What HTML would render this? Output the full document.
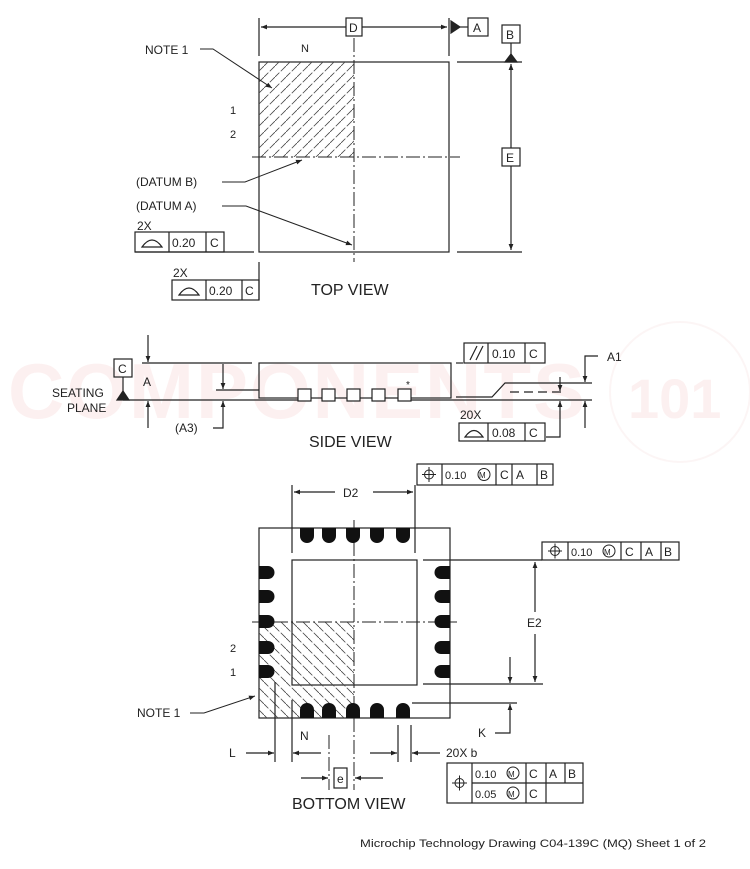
<!DOCTYPE html>
<html><head><meta charset="utf-8"><style>
html,body{margin:0;padding:0;background:#fff}
svg{display:block}
text{font-family:"Liberation Sans",Arial,sans-serif;fill:#222}
</style></head><body>
<svg width="750" height="869" viewBox="0 0 750 869" xmlns="http://www.w3.org/2000/svg">
<defs>
<marker id="ar" viewBox="0 0 10 10" refX="10" refY="5" markerWidth="9" markerHeight="6" orient="auto-start-reverse" markerUnits="userSpaceOnUse"><path d="M0,1 L10,5 L0,9z" fill="#222"/></marker>
<clipPath id="ct"><rect x="259" y="62" width="95" height="95"/></clipPath>
<clipPath id="cb"><rect x="259" y="622" width="95" height="96"/></clipPath>
<pattern id="hs" width="11" height="11" patternUnits="userSpaceOnUse"><path d="M-2,13 L13,-2" stroke="#444" stroke-width="0.8" stroke-dasharray="9,2"/></pattern>
<pattern id="hb" width="11" height="11" patternUnits="userSpaceOnUse"><path d="M-2,-2 L13,13" stroke="#444" stroke-width="0.8" stroke-dasharray="9,2"/></pattern>
</defs>
<!-- watermark -->
<g opacity="0.3">
<text x="8" y="418" font-size="78" font-weight="bold" style="fill:#f8d0d0" letter-spacing="2">COMPONENTS</text>
<text x="628" y="418" font-size="56" font-weight="bold" style="fill:#f8d0d0">101</text>
<circle cx="680" cy="392" r="70" fill="none" stroke="#f6e0e0" stroke-width="2"/>
</g>
<g stroke="#222" stroke-width="1.2" fill="none">
<!-- TOP VIEW -->
<rect x="259" y="62" width="190" height="190"/>
<rect x="259" y="62" width="95" height="95" fill="url(#hs)" stroke="none" clip-path="url(#ct)"/>
<line x1="354" y1="38" x2="354" y2="262" stroke-dasharray="14,3,2,3" stroke-width="1"/>
<line x1="252" y1="157" x2="460" y2="157" stroke-dasharray="14,3,2,3" stroke-width="1"/>
<line x1="259" y1="18" x2="259" y2="56"/><line x1="449" y1="18" x2="449" y2="56"/>
<line x1="261" y1="27" x2="346" y2="27" marker-start="url(#ar)"/>
<line x1="362" y1="27" x2="447" y2="27" marker-end="url(#ar)"/>
<rect x="346" y="18" width="16" height="18"/>
<path d="M451,21 L460,27 L451,33z" fill="#222"/>
<line x1="460" y1="27" x2="468" y2="27"/>
<rect x="468" y="18" width="20" height="18"/>
<rect x="502" y="25" width="18" height="18"/>
<line x1="511" y1="43" x2="511" y2="55"/>
<path d="M505,62 L511,54 L517,62z" fill="#222"/>
<line x1="457" y1="62" x2="522" y2="62"/><line x1="457" y1="252" x2="522" y2="252"/>
<line x1="511" y1="64" x2="511" y2="148" marker-start="url(#ar)"/>
<line x1="511" y1="166" x2="511" y2="250" marker-end="url(#ar)"/>
<rect x="502" y="148" width="18" height="18"/>
<polyline points="200,49 213,49 272,88" marker-end="url(#ar)" stroke-width="1"/>
<polyline points="222,182 245,182 302,160" marker-end="url(#ar)" stroke-width="1"/>
<polyline points="222,206 246,206 352,245" marker-end="url(#ar)" stroke-width="1"/>
<line x1="135" y1="252" x2="254" y2="252"/>
<rect x="135" y="232" width="89" height="20"/>
<line x1="169" y1="232" x2="169" y2="252"/><line x1="206" y1="232" x2="206" y2="252"/>
<path d="M142,247 Q152,233 162,247 Z"/>
<line x1="259" y1="262" x2="259" y2="300"/>
<rect x="172" y="280" width="87" height="20"/>
<line x1="206" y1="280" x2="206" y2="300"/><line x1="242" y1="280" x2="242" y2="300"/>
<path d="M179,295 Q189,281 199,295 Z"/>
<!-- SIDE VIEW -->
<rect x="259" y="363" width="192" height="35"/>
<line x1="142" y1="363" x2="252" y2="363"/>
<line x1="216" y1="390" x2="259" y2="390"/>
<line x1="123" y1="400" x2="300" y2="400"/>
<line x1="411" y1="400" x2="592" y2="400"/>
<line x1="148" y1="335" x2="148" y2="362" marker-end="url(#ar)"/>
<line x1="148" y1="428" x2="148" y2="401" marker-end="url(#ar)"/>
<rect x="114" y="359" width="18" height="18"/>
<line x1="123" y1="377" x2="123" y2="392"/>
<path d="M117,400 L123,391 L129,400z" fill="#222"/>
<line x1="223" y1="364" x2="223" y2="389" marker-end="url(#ar)"/>
<polyline points="213,428 223,428 223,401" marker-end="url(#ar)"/>
<g fill="#fff">
<rect x="298" y="389" width="13" height="12"/><rect x="322" y="389" width="13" height="12"/><rect x="347" y="389" width="13" height="12"/><rect x="372" y="389" width="13" height="12"/><rect x="398" y="389" width="13" height="12"/>
</g>
<line x1="456" y1="363" x2="463" y2="363"/>
<rect x="464" y="343" width="81" height="20"/>
<line x1="488" y1="343" x2="488" y2="363"/><line x1="525" y1="343" x2="525" y2="363"/>
<line x1="470" y1="360" x2="477" y2="346"/><line x1="476" y1="360" x2="483" y2="346"/>
<polyline points="456,397 492,397 505,383 592,383"/>
<line x1="510" y1="392" x2="564" y2="392" stroke-dasharray="9,5"/>
<line x1="585" y1="358" x2="585" y2="382" marker-end="url(#ar)"/>
<line x1="585" y1="428" x2="585" y2="401" marker-end="url(#ar)"/>
<polyline points="598,356 585,356 585,358"/>
<line x1="560" y1="377" x2="560" y2="391" marker-end="url(#ar)"/>
<polyline points="546,437 560,437 560,401" marker-end="url(#ar)"/>
<rect x="459" y="423" width="86" height="18"/>
<line x1="488" y1="423" x2="488" y2="441"/><line x1="525" y1="423" x2="525" y2="441"/>
<path d="M465,437 Q474,424 483,437 Z"/>
<!-- BOTTOM VIEW -->
<rect x="259" y="528" width="191" height="190"/>
<rect x="292" y="560" width="125" height="125"/>
<rect x="259" y="622" width="95" height="96" fill="url(#hb)" stroke="none" clip-path="url(#cb)"/>
<line x1="354" y1="520" x2="354" y2="790" stroke-dasharray="14,3,2,3" stroke-width="1"/>
<line x1="252" y1="622" x2="457" y2="622" stroke-dasharray="14,3,2,3" stroke-width="1"/>
<g fill="#111" stroke="none">
<path d="M300,528 h14 v8 a7,7 0 0 1 -14,0z"/><path d="M322,528 h14 v8 a7,7 0 0 1 -14,0z"/><path d="M346,528 h14 v8 a7,7 0 0 1 -14,0z"/><path d="M370,528 h14 v8 a7,7 0 0 1 -14,0z"/><path d="M396,528 h14 v8 a7,7 0 0 1 -14,0z"/>
<path d="M300,718 h14 v-8 a7,7 0 0 0 -14,0z"/><path d="M322,718 h14 v-8 a7,7 0 0 0 -14,0z"/><path d="M346,718 h14 v-8 a7,7 0 0 0 -14,0z"/><path d="M370,718 h14 v-8 a7,7 0 0 0 -14,0z"/><path d="M396,718 h14 v-8 a7,7 0 0 0 -14,0z"/>
<path d="M259,566 v13 h9 a6.5,6.5 0 0 0 0,-13z"/><path d="M259,590 v13 h9 a6.5,6.5 0 0 0 0,-13z"/><path d="M259,615 v13 h9 a6.5,6.5 0 0 0 0,-13z"/><path d="M259,641 v13 h9 a6.5,6.5 0 0 0 0,-13z"/><path d="M259,665 v13 h9 a6.5,6.5 0 0 0 0,-13z"/>
<path d="M450,566 v13 h-9 a6.5,6.5 0 0 1 0,-13z"/><path d="M450,590 v13 h-9 a6.5,6.5 0 0 1 0,-13z"/><path d="M450,615 v13 h-9 a6.5,6.5 0 0 1 0,-13z"/><path d="M450,641 v13 h-9 a6.5,6.5 0 0 1 0,-13z"/><path d="M450,665 v13 h-9 a6.5,6.5 0 0 1 0,-13z"/>
</g>
<line x1="292" y1="485" x2="292" y2="553"/>
<line x1="415" y1="485" x2="415" y2="553"/>
<line x1="294" y1="492" x2="335" y2="492" marker-start="url(#ar)"/>
<line x1="373" y1="492" x2="413" y2="492" marker-end="url(#ar)"/>
<rect x="417" y="464" width="136" height="21"/>
<line x1="442" y1="464" x2="442" y2="485"/><line x1="496" y1="464" x2="496" y2="485"/><line x1="512" y1="464" x2="512" y2="485"/><line x1="537" y1="464" x2="537" y2="485"/>
<line x1="423" y1="560" x2="542" y2="560"/>
<rect x="542" y="542" width="137" height="18"/>
<line x1="568" y1="542" x2="568" y2="560"/><line x1="621" y1="542" x2="621" y2="560"/><line x1="641" y1="542" x2="641" y2="560"/><line x1="661" y1="542" x2="661" y2="560"/>
<line x1="535" y1="562" x2="535" y2="612" marker-start="url(#ar)"/>
<line x1="535" y1="634" x2="535" y2="682" marker-end="url(#ar)"/>
<line x1="423" y1="684" x2="543" y2="684"/>
<line x1="412" y1="703" x2="517" y2="703"/>
<line x1="510" y1="657" x2="510" y2="683" marker-end="url(#ar)"/>
<polyline points="495,733 510,733 510,704" marker-end="url(#ar)"/>
<line x1="275" y1="682" x2="275" y2="762"/><line x1="292" y1="700" x2="292" y2="762"/>
<line x1="329" y1="735" x2="329" y2="790" stroke-dasharray="14,3,2,3" stroke-width="1"/>
<line x1="398" y1="725" x2="398" y2="762"/><line x1="411" y1="725" x2="411" y2="762"/>
<line x1="246" y1="753" x2="274" y2="753" marker-end="url(#ar)"/>
<line x1="321" y1="753" x2="293" y2="753" marker-end="url(#ar)"/>
<line x1="370" y1="753" x2="397" y2="753" marker-end="url(#ar)"/>
<line x1="440" y1="753" x2="412" y2="753" marker-end="url(#ar)"/>
<line x1="301" y1="778" x2="328" y2="778" marker-end="url(#ar)"/>
<line x1="383" y1="778" x2="355" y2="778" marker-end="url(#ar)"/>
<rect x="334" y="768" width="13" height="20"/>
<polyline points="190,713 204,713 255,696" marker-end="url(#ar)" stroke-width="1"/>
<rect x="447" y="763" width="136" height="40"/>
<line x1="472" y1="763" x2="472" y2="803"/><line x1="472" y1="783" x2="583" y2="783"/>
<line x1="526" y1="763" x2="526" y2="803"/><line x1="546" y1="763" x2="546" y2="783"/><line x1="565" y1="763" x2="565" y2="783"/>
<line x1="546" y1="783" x2="546" y2="803"/>
</g>
<!-- position symbols -->
<g stroke="#222" stroke-width="1" fill="none">
<circle cx="429" cy="474.5" r="4.5"/><line x1="422" y1="474.5" x2="436" y2="474.5"/><line x1="429" y1="467" x2="429" y2="482"/>
<circle cx="555" cy="551" r="4.5"/><line x1="548" y1="551" x2="562" y2="551"/><line x1="555" y1="543.5" x2="555" y2="558.5"/>
<circle cx="459.5" cy="783" r="4.5"/><line x1="452" y1="783" x2="467" y2="783"/><line x1="459.5" y1="775.5" x2="459.5" y2="790.5"/>
<circle cx="484" cy="474.5" r="6"/><circle cx="609" cy="551" r="6"/><circle cx="513" cy="773" r="6"/><circle cx="513" cy="793" r="6"/>
</g>
<g font-size="12">
<text x="145" y="54">NOTE 1</text>
<text x="301" y="52" font-size="11">N</text>
<text x="230" y="114" font-size="11">1</text>
<text x="230" y="138" font-size="11">2</text>
<text x="136" y="186">(DATUM B)</text>
<text x="136" y="210">(DATUM A)</text>
<text x="137" y="230">2X</text>
<text x="173" y="277">2X</text>
<text x="172" y="247">0.20</text><text x="210" y="247">C</text>
<text x="209" y="295">0.20</text><text x="245" y="295">C</text>
<text x="349" y="32">D</text><text x="473" y="32">A</text><text x="506" y="39">B</text><text x="506" y="162">E</text>
<text x="311" y="295" font-size="16">TOP VIEW</text>
<text x="118" y="373">C</text>
<text x="143" y="386">A</text>
<text x="52" y="397">SEATING</text>
<text x="67" y="412">PLANE</text>
<text x="175" y="432">(A3)</text>
<text x="492" y="358">0.10</text><text x="529" y="358">C</text>
<text x="607" y="361">A1</text>
<text x="460" y="419">20X</text>
<text x="492" y="437">0.08</text><text x="529" y="437">C</text>
<text x="309" y="447" font-size="16">SIDE VIEW</text>
<text x="343" y="497">D2</text>
<text x="445" y="479" font-size="11">0.10</text><text x="500" y="479">C</text><text x="516" y="479">A</text><text x="540" y="479">B</text>
<text x="479" y="478" font-size="8">M</text>
<text x="571" y="556" font-size="11">0.10</text><text x="625" y="556">C</text><text x="645" y="556">A</text><text x="664" y="556">B</text>
<text x="604" y="555" font-size="8">M</text>
<text x="527" y="627">E2</text>
<text x="478" y="737">K</text>
<text x="230" y="652" font-size="11">2</text>
<text x="230" y="676" font-size="11">1</text>
<text x="137" y="717">NOTE 1</text>
<text x="229" y="757">L</text>
<text x="300" y="740">N</text>
<text x="446" y="757">20X b</text>
<text x="337" y="783">e</text>
<text x="475" y="778" font-size="11">0.10</text><text x="529" y="778">C</text><text x="549" y="778">A</text><text x="568" y="778">B</text>
<text x="475" y="798" font-size="11">0.05</text><text x="529" y="798">C</text>
<text x="508" y="777" font-size="8">M</text><text x="508" y="797" font-size="8">M</text>
<text x="292" y="809" font-size="16">BOTTOM VIEW</text>
<text x="360" y="847" font-size="11" textLength="346" lengthAdjust="spacingAndGlyphs">Microchip Technology Drawing  C04-139C (MQ) Sheet 1 of 2</text>
</g>
<text x="406" y="388" font-size="10">*</text>
</svg>
</body></html>
